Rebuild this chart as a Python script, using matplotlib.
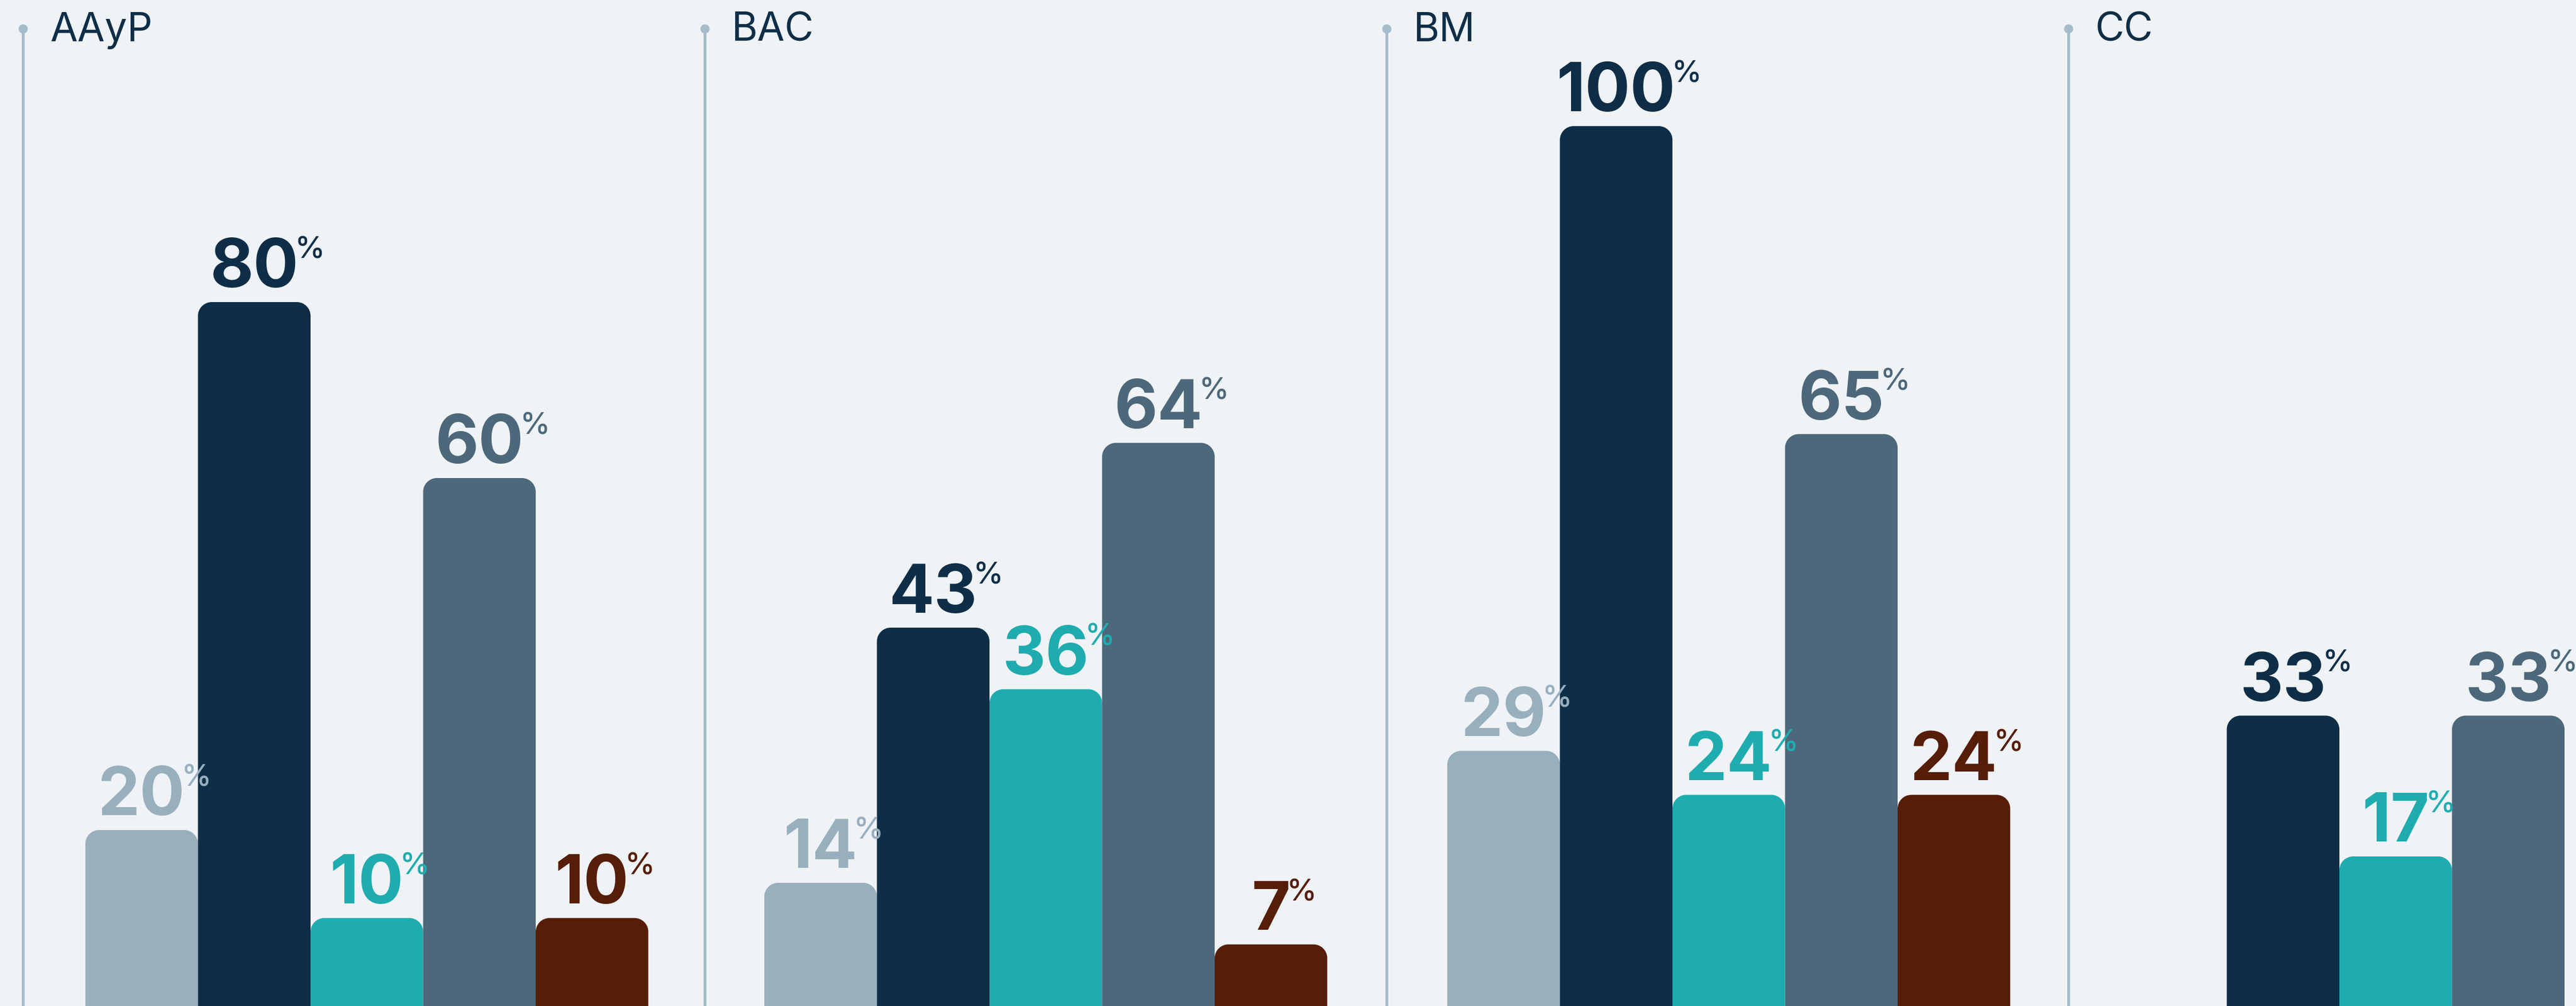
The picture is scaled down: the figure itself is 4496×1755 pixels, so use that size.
import matplotlib

matplotlib.use("Agg")
import matplotlib.pyplot as plt
import matplotlib.transforms as mtransforms
from matplotlib.path import Path
from matplotlib.patches import PathPatch

# categories and series (None = no bar for that group)
groups = ["AAyP", "BAC", "BM", "CC"]
serie_a = [20, 14, 29, None]
serie_b = [80, 43, 100, 33]
serie_c = [10, 36, 24, 17]
serie_d = [60, 64, 65, 33]
serie_e = [10, 7, 24, None]
series = [serie_a, serie_b, serie_c, serie_d, serie_e]
colors = ["#98b0be", "#0e2e48", "#1facb0", "#4c687a", "#561d08"]

BG = "#eff3f6"
RULE = "#a6bcca"
TITLE = "#0e2e48"

W, H, DPI = 4496, 1755, 100
PX_GROUP = 1190.0      # pixels between group rules
PX_PER_PCT = 15.35     # pixels per percentage point
BAR_W = 196.5 / PX_GROUP
RADIUS = 24.0
# left padding between a group's rule and its first bar, in pixels
bar_pad_px = [109, 104, 106, 80]


def rounded_top_bar(ax, x0, width, height, color):
    rx = RADIUS / PX_GROUP
    ry = min(RADIUS / PX_PER_PCT, height)
    k = 0.5523
    x1 = x0 + width
    verts = [
        (x0, 0), (x0, height - ry),
        (x0, height - ry + k * ry), (x0 + rx - k * rx, height), (x0 + rx, height),
        (x1 - rx, height),
        (x1 - rx + k * rx, height), (x1, height - ry + k * ry), (x1, height - ry),
        (x1, 0), (x0, 0),
    ]
    codes = [Path.MOVETO, Path.LINETO,
             Path.CURVE4, Path.CURVE4, Path.CURVE4,
             Path.LINETO,
             Path.CURVE4, Path.CURVE4, Path.CURVE4,
             Path.LINETO, Path.CLOSEPOLY]
    ax.add_patch(PathPatch(Path(verts, codes), facecolor=color, edgecolor="none", zorder=2))


fig = plt.figure(figsize=(W / DPI, H / DPI), dpi=DPI)
fig.patch.set_facecolor(BG)
ax = fig.add_axes([0, 0, 1, 1])
ax.set_facecolor(BG)
ax.set_xlim(-40 / PX_GROUP, (W - 40) / PX_GROUP)
ax.set_ylim(0, H / PX_PER_PCT)
ax.axis("off")

blend = mtransforms.blended_transform_factory(ax.transData, ax.transAxes)
dot_y = 1 - 50 / H
title_y = 1 - 72 / H

for g, name in enumerate(groups):
    ax.plot([g, g], [0, dot_y], transform=blend, color=RULE, lw=3.6,
            solid_capstyle="butt", zorder=1)
    ax.plot([g], [dot_y], transform=blend, marker="o", ms=11.5, color=RULE,
            mec="none", zorder=1)
    ax.text(g + 47 / PX_GROUP, title_y, name, transform=blend, ha="left",
            va="baseline", fontsize=50, color=TITLE, family="Inter")

    for k, (vals, col) in enumerate(zip(series, colors)):
        v = vals[g]
        if v is None:
            continue
        x0 = g + bar_pad_px[g] / PX_GROUP + k * BAR_W
        rounded_top_bar(ax, x0, BAR_W, v, col)
        num = ax.annotate(f"{v}", xy=(x0 + BAR_W / 2, v), xytext=(0, 18.5),
                          textcoords="offset points", ha="center", va="baseline",
                          fontsize=84, fontweight="bold", color=col,
                          family="Inter", zorder=3)
        ax.annotate("%", xy=(1, 1), xycoords=num, xytext=(-5, 2),
                    textcoords="offset points", ha="left", va="top",
                    fontsize=38, fontweight="medium", color=col,
                    family="Inter", zorder=3)

fig.savefig("out.png", dpi=DPI, facecolor=BG)
